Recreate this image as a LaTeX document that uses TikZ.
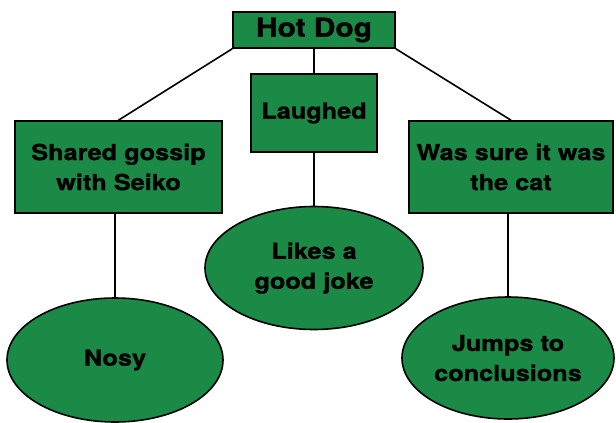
\documentclass[tikz,border=0pt]{standalone}
\usepackage{fontspec}
\newfontfamily\hv[FakeStretch=1.15,FakeBold=1.2]{TeX Gyre Heros}
\usetikzlibrary{shapes.geometric}
\definecolor{boxgreen}{RGB}{26,138,70}
\tikzset{
  gbox/.style={draw=black, line width=1.6pt, fill=boxgreen, rectangle, inner sep=0pt, align=center,
    font=\hv\bfseries\fontsize{22}{30}\selectfont},
  gell/.style={draw=black, line width=1.6pt, fill=boxgreen, ellipse, inner sep=0pt, align=center,
    font=\hv\bfseries\fontsize{22}{30}\selectfont},
  link/.style={draw=black, line width=1.6pt}
}
\begin{document}
\begin{tikzpicture}[x=1pt,y=-1pt]
\useasboundingbox (0,0) rectangle (616,423);
\node[gbox, minimum width=162pt, minimum height=36pt, font=\hv\bfseries\fontsize{26}{30}\selectfont] (hot) at (314,30) {Hot Dog};
\node[gbox, minimum width=126pt, minimum height=78pt] (laughed) at (314,113) {Laughed};
\node[gbox, minimum width=207pt, minimum height=92pt] (shared) at (118.5,167) {Shared gossip\\with Seiko};
\node[gbox, minimum width=204pt, minimum height=92pt] (sure) at (511,167) {Was sure it was\\the cat};
\node[gell, minimum width=218pt, minimum height=123pt] (likes) at (314,268) {Likes a\\good joke};
\node[gell, minimum width=216pt, minimum height=124pt] (nosy) at (115,360) {Nosy};
\node[gell, minimum width=212pt, minimum height=122pt] (jumps) at (508,358) {Jumps to\\conclusions};
\draw[link] (hot.south west) -- (shared.north);
\draw[link] (hot.south east) -- (sure.north);
\draw[link] (hot.south) -- (laughed.north);
\draw[link] (laughed.south) -- (likes.north);
\draw[link] (shared.south -| nosy.north) -- (nosy.north);
\draw[link] (sure.south -| jumps.north) -- (jumps.north);
\end{tikzpicture}
\end{document}
